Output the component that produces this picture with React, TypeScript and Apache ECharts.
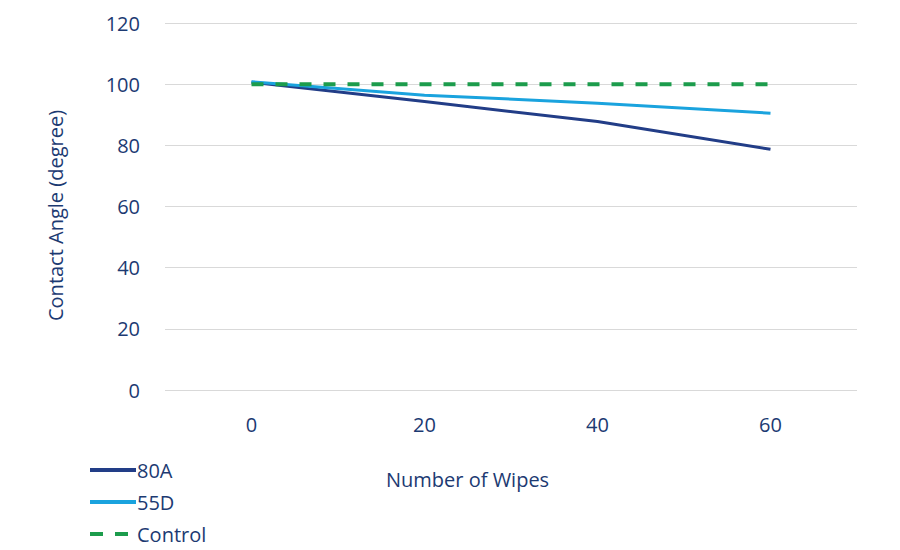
import React, { useEffect, useRef } from "react";
import * as echarts from "echarts";

const wipes = ["0", "20", "40", "60"];
const series80A = [100.6, 94.3, 87.8, 78.7];
const series55D = [100.8, 96.4, 93.8, 90.5];
const control = [100, 100, 100, 100];

const textColor = "#1c3a72";

export default function App() {
  const ref = useRef<HTMLDivElement>(null);

  useEffect(() => {
    if (!ref.current) return;
    const chart = echarts.init(ref.current, null, { renderer: "svg" });
    const font = "'Open Sans', 'Noto Sans', sans-serif";
    chart.setOption({
      animation: false,
      backgroundColor: "#ffffff",
      textStyle: { fontFamily: font },
      grid: { left: 165, right: 43, top: 23, bottom: 160 },
      xAxis: {
        type: "category",
        data: wipes,
        boundaryGap: true,
        axisLine: { show: false },
        axisTick: { show: false },
        axisLabel: { color: textColor, fontSize: 20, margin: 24, fontFamily: font },
      },
      yAxis: {
        type: "value",
        min: 0,
        max: 120,
        interval: 20,
        name: "Contact Angle (degree)",
        nameLocation: "middle",
        nameGap: 100,
        nameTextStyle: { color: textColor, fontSize: 20, fontFamily: font, padding: [0, 18, 0, 0] },
        axisLine: { show: false },
        axisTick: { show: false },
        axisLabel: { color: textColor, fontSize: 20, margin: 25, fontFamily: font },
        splitLine: { lineStyle: { color: "#d9d9d9", width: 1 } },
      },
      legend: {
        orient: "vertical",
        left: 85,
        top: 453,
        height: 97,
        itemWidth: 46,
        itemHeight: 4,
        itemGap: 8,
        textStyle: {
          color: textColor,
          fontSize: 20,
          fontFamily: font,
          lineHeight: 24,
          padding: [0, 0, 0, -4],
        },
        data: [
          { name: "80A", icon: "rect" },
          { name: "55D", icon: "rect" },
          {
            name: "Control",
            icon: "path://M0,0h13v4h-13z M25,0h13v4h-13z M46,0L46,4L46,4z",
          },
        ],
      },
      graphic: [
        {
          type: "text",
          left: 386,
          top: 469,
          style: { text: "Number of Wipes", fill: textColor, fontSize: 20, fontFamily: font },
        },
      ],
      series: [
        {
          name: "80A",
          type: "line",
          data: series80A,
          showSymbol: false,
          symbol: "none",
          lineStyle: { color: "#223d87", width: 3 },
          itemStyle: { color: "#223d87" },
        },
        {
          name: "55D",
          type: "line",
          data: series55D,
          showSymbol: false,
          symbol: "none",
          lineStyle: { color: "#1aa3de", width: 3 },
          itemStyle: { color: "#1aa3de" },
        },
        {
          name: "Control",
          type: "line",
          data: control,
          showSymbol: false,
          symbol: "none",
          lineStyle: { color: "#1c9c4c", width: 4, type: [12, 12] },
          itemStyle: { color: "#1c9c4c" },
        },
      ],
    });
    return () => chart.dispose();
  }, []);

  return <div ref={ref} style={{ width: 900, height: 550, position: "absolute", left: 0, top: 0 }} />;
}
